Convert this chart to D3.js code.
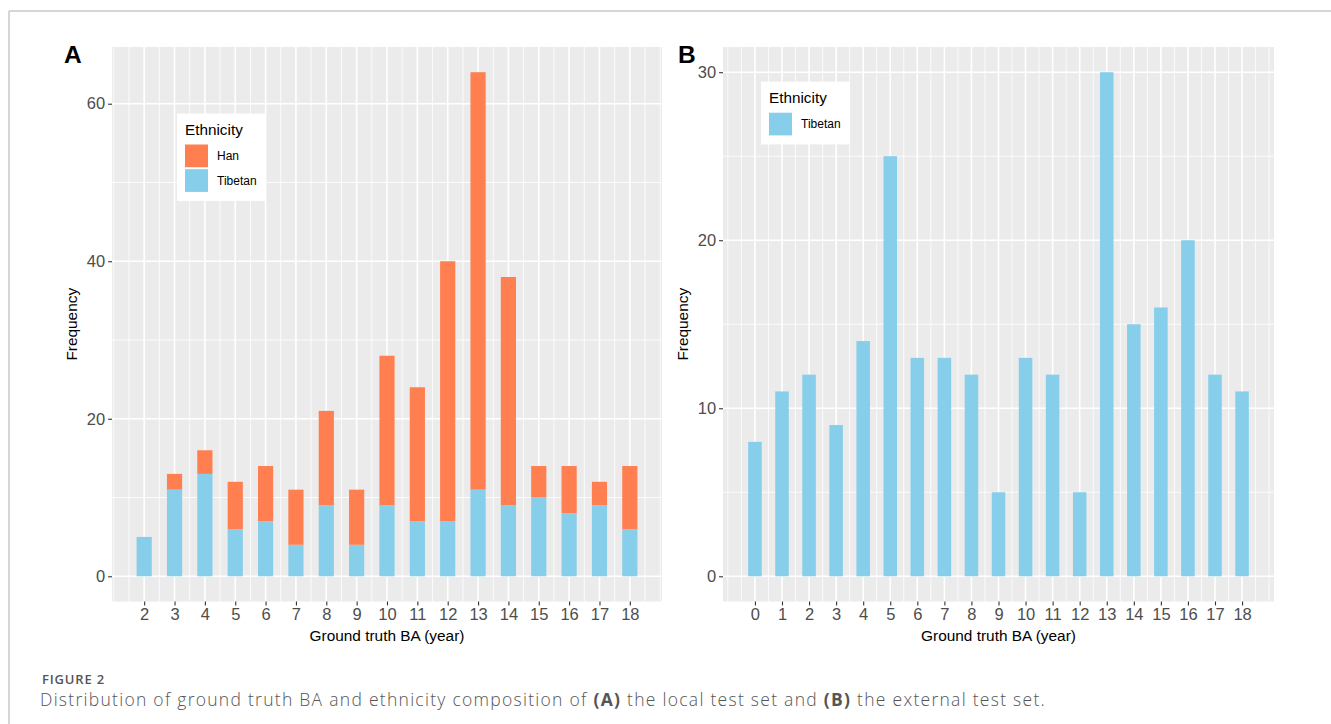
<!DOCTYPE html>
<html>
<head>
<meta charset="utf-8">
<script src="https://cdn.jsdelivr.net/npm/d3@7"></script>
<style>
  html, body { margin: 0; padding: 0; background: #fff; }
  svg { display: block; }
</style>
</head>
<body>
<svg id="fig" width="1331" height="724"></svg>
<script>
// ---- data ----
// Panel A: local test set, counts per ground-truth bone age by ethnicity
const agesA = [2, 3, 4, 5, 6, 7, 8, 9, 10, 11, 12, 13, 14, 15, 16, 17, 18];
const tibetanA = [5, 11, 13, 6, 7, 4, 9, 4, 9, 7, 7, 11, 9, 10, 8, 9, 6];
const hanA = [0, 2, 3, 6, 7, 7, 12, 7, 19, 17, 33, 53, 29, 4, 6, 3, 8];

// Panel B: external test set (Tibetan only)
const agesB = [0, 1, 2, 3, 4, 5, 6, 7, 8, 9, 10, 11, 12, 13, 14, 15, 16, 17, 18];
const tibetanB = [8, 11, 12, 9, 14, 25, 13, 13, 12, 5, 13, 12, 5, 30, 15, 16, 20, 12, 11];

const yTicksA = [0, 20, 40, 60];
const yTicksB = [0, 10, 20, 30];
const ethnicities = ["Han", "Tibetan"];
const colors = { Han: "#FF7F50", Tibetan: "#87CEEB" };

// ---- styling ----
const FONT = '"Liberation Sans", Arial, Helvetica, sans-serif';
const PANEL_BG = "#EBEBEB";
const AXIS_TEXT = "#4D4D4D";
const BAR_WIDTH = 0.5;

const svg = d3.select("#fig");

// page frame lines
svg.append("line").attr("x1", 9).attr("x2", 1331).attr("y1", 11).attr("y2", 11)
  .attr("stroke", "#C8C8C8").attr("stroke-width", 1.5);
svg.append("line").attr("x1", 9).attr("x2", 9).attr("y1", 11).attr("y2", 724)
  .attr("stroke", "#C8C8C8").attr("stroke-width", 1.5);

// minor breaks halfway between majors, extended one step past each end
function minorBreaks(majors, domain) {
  const step = majors[1] - majors[0];
  const ext = [majors[0] - step, ...majors, majors[majors.length - 1] + step];
  const out = [];
  for (let i = 0; i < ext.length - 1; i++) {
    out.push(ext[i], (ext[i] + ext[i + 1]) / 2);
  }
  out.push(ext[ext.length - 1]);
  return out.filter(v => v >= domain[0] && v <= domain[1] && !majors.includes(v));
}

function drawPanel(opts) {
  const { x, y, xTicks, yTicks, tag, tagX } = opts;
  const [x0, x1] = x.range();
  const [yb, yt] = y.range();
  const g = svg.append("g");

  g.append("rect").attr("x", x0).attr("y", yt).attr("width", x1 - x0).attr("height", yb - yt)
    .attr("fill", PANEL_BG);

  // minor grid
  const xMinor = minorBreaks(xTicks, x.domain());
  const yMinor = minorBreaks(yTicks, y.domain());
  g.selectAll(".xminor").data(xMinor).join("line")
    .attr("x1", d => x(d)).attr("x2", d => x(d)).attr("y1", yt).attr("y2", yb)
    .attr("stroke", "#fff").attr("stroke-width", 0.8);
  g.selectAll(".yminor").data(yMinor).join("line")
    .attr("y1", d => y(d)).attr("y2", d => y(d)).attr("x1", x0).attr("x2", x1)
    .attr("stroke", "#fff").attr("stroke-width", 0.8);
  // major grid
  g.selectAll(".xmajor").data(xTicks).join("line")
    .attr("x1", d => x(d)).attr("x2", d => x(d)).attr("y1", yt).attr("y2", yb)
    .attr("stroke", "#fff").attr("stroke-width", 1.6);
  g.selectAll(".ymajor").data(yTicks).join("line")
    .attr("y1", d => y(d)).attr("y2", d => y(d)).attr("x1", x0).attr("x2", x1)
    .attr("stroke", "#fff").attr("stroke-width", 1.6);

  // axes
  const ax = g.append("g").attr("transform", `translate(0,${yb})`)
    .call(d3.axisBottom(x).tickValues(xTicks).tickSize(3.9).tickPadding(3).tickFormat(d3.format("d")));
  const ay = g.append("g").attr("transform", `translate(${x0},0)`)
    .call(d3.axisLeft(y).tickValues(yTicks).tickSize(3.9).tickPadding(3).tickFormat(d3.format("d")));
  [ax, ay].forEach(a => {
    a.select(".domain").remove();
    a.selectAll(".tick line").attr("stroke", "#333").attr("stroke-width", 1.1);
    a.selectAll(".tick text").attr("fill", AXIS_TEXT).style("font-size", "16.5px")
      .style("font-family", FONT);
  });

  // axis titles
  g.append("text").attr("x", (x0 + x1) / 2).attr("y", yb + 39)
    .attr("text-anchor", "middle").style("font-family", FONT).style("font-size", "15.4px")
    .attr("fill", "#000").text("Ground truth BA (year)");
  g.append("text")
    .attr("transform", `translate(${x0 - 35},${(yt + yb) / 2}) rotate(-90)`)
    .attr("text-anchor", "middle").style("font-family", FONT).style("font-size", "15.4px")
    .attr("fill", "#000").text("Frequency");

  // panel tag
  g.append("text").attr("x", tagX).attr("y", 63).style("font-family", FONT)
    .style("font-size", "24.5px").style("font-weight", "bold").attr("fill", "#000").text(tag);

  return g;
}

function drawLegend(x, y, keys) {
  const h = 31 + keys.length * 24.7 + 7;
  const g = svg.append("g").attr("transform", `translate(${x},${y})`);
  g.append("rect").attr("width", 89).attr("height", h).attr("fill", "#fff");
  g.append("text").attr("x", 8).attr("y", 21.5).style("font-family", FONT)
    .style("font-size", "15.3px").attr("fill", "#000").text("Ethnicity");
  const items = g.selectAll(".key").data(keys).join("g")
    .attr("transform", (d, i) => `translate(8,${31 + i * 24.7})`);
  items.append("rect").attr("width", 23).attr("height", 22.7).attr("fill", d => colors[d]);
  items.append("text").attr("x", 32).attr("y", 15.5).style("font-family", FONT)
    .style("font-size", "12px").attr("fill", "#000").text(d => d);
}

// ---- Panel A ----
const xA = d3.scaleLinear().domain([0.94, 19.06]).range([112, 662]);
const yA = d3.scaleLinear().domain([-3.2, 67.2]).range([601.5, 47]);
const gA = drawPanel({ x: xA, y: yA, xTicks: agesA, yTicks: yTicksA, tag: "A", tagX: 64 });

const rowsA = agesA.map((a, i) => ({ age: a, Tibetan: tibetanA[i], Han: hanA[i] }));
const stackA = d3.stack().keys(["Tibetan", "Han"])(rowsA);
gA.selectAll(".layer").data(stackA).join("g").attr("fill", s => colors[s.key])
  .selectAll("rect").data(s => s.filter(d => d[1] > d[0])).join("rect")
  .attr("x", d => xA(d.data.age - BAR_WIDTH / 2))
  .attr("width", d => xA(d.data.age + BAR_WIDTH / 2) - xA(d.data.age - BAR_WIDTH / 2))
  .attr("y", d => yA(d[1]))
  .attr("height", d => yA(d[0]) - yA(d[1]));

drawLegend(177, 113.5, ethnicities);

// ---- Panel B ----
const xB = d3.scaleLinear().domain([-1.18, 19.18]).range([723, 1274]);
const yB = d3.scaleLinear().domain([-1.5, 31.5]).range([601.5, 47]);
const gB = drawPanel({ x: xB, y: yB, xTicks: agesB, yTicks: yTicksB, tag: "B", tagX: 678 });

gB.append("g").attr("fill", colors.Tibetan).selectAll("rect")
  .data(agesB.map((a, i) => ({ age: a, n: tibetanB[i] }))).join("rect")
  .attr("x", d => xB(d.age - BAR_WIDTH / 2))
  .attr("width", d => xB(d.age + BAR_WIDTH / 2) - xB(d.age - BAR_WIDTH / 2))
  .attr("y", d => yB(d.n))
  .attr("height", d => yB(0) - yB(d.n));

drawLegend(761, 81.7, ["Tibetan"]);

// ---- caption ----
// spread a text line to a given overall width via letter-spacing
function fitWidth(sel, target) {
  const node = sel.node();
  const w = node.getComputedTextLength();
  const n = node.textContent.length;
  sel.style("letter-spacing", ((target - w) / n) + "px");
}

const fig = svg.append("text").attr("x", 42).attr("y", 684)
  .style("font-family", '"Open Sans", "Noto Sans", sans-serif')
  .style("font-size", "13px").style("font-weight", 600).attr("fill", "#555")
  .text("FIGURE 2");
fitWidth(fig, 63);

const cap = svg.append("text").attr("x", 40).attr("y", 706)
  .style("font-family", '"Open Sans", "Noto Sans", sans-serif')
  .style("font-size", "17.5px").style("font-weight", 300).attr("fill", "#555");
cap.append("tspan").text("Distribution of ground truth BA and ethnicity composition of ");
cap.append("tspan").style("font-weight", 700).text("(A)");
cap.append("tspan").text(" the local test set and ");
cap.append("tspan").style("font-weight", 700).text("(B)");
cap.append("tspan").text(" the external test set.");
fitWidth(cap, 1006);
</script>
</body>
</html>
